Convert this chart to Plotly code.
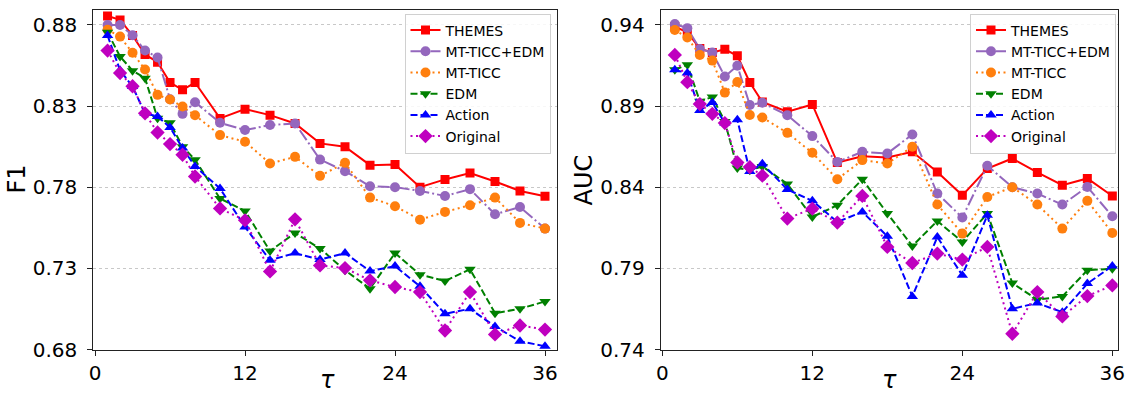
import plotly.graph_objects as go

tau = [1, 2, 3, 4, 5, 6, 7, 8, 10, 12, 14, 16, 18, 20, 22, 24, 26, 28, 30, 32, 34, 36]
x_ticks = [0, 12, 24, 36]

series_names = ["THEMES", "MT-TICC+EDM", "MT-TICC", "EDM", "Action", "Original"]

f1_themes = [0.8855, 0.8831, 0.8735, 0.8618, 0.8570, 0.8445, 0.8400, 0.8445, 0.8224, 0.8281, 0.8244,
             0.8193, 0.8070, 0.8049, 0.7936, 0.7940, 0.7800, 0.7848, 0.7888, 0.7835, 0.7777, 0.7744]
f1_mtticc_edm = [0.8800, 0.8800, 0.8736, 0.8642, 0.8599, 0.8342, 0.8252, 0.8324, 0.8197, 0.8152, 0.8183,
                 0.8193, 0.7970, 0.7899, 0.7806, 0.7800, 0.7777, 0.7746, 0.7788, 0.7633, 0.7678, 0.7545]
f1_mtticc = [0.8770, 0.8728, 0.8628, 0.8525, 0.8369, 0.8340, 0.8297, 0.8243, 0.8121, 0.8080, 0.7946,
             0.7987, 0.7870, 0.7950, 0.7736, 0.7683, 0.7600, 0.7648, 0.7689, 0.7736, 0.7580, 0.7545]
f1_edm = [0.8755, 0.8605, 0.8518, 0.8472, 0.8225, 0.8197, 0.8050, 0.7969, 0.7730, 0.7654, 0.7407,
          0.7518, 0.7422, 0.7288, 0.7175, 0.7394, 0.7261, 0.7222, 0.7294, 0.7024, 0.7051, 0.7096]
f1_action = [0.8735, 0.8520, 0.8420, 0.8255, 0.8236, 0.8168, 0.8041, 0.7928, 0.7792, 0.7555, 0.7350,
             0.7394, 0.7354, 0.7394, 0.7283, 0.7314, 0.7189, 0.7020, 0.7051, 0.6942, 0.6851, 0.6820]
f1_original = [0.8642, 0.8503, 0.8422, 0.8255, 0.8137, 0.8066, 0.8000, 0.7866, 0.7669, 0.7596, 0.7281,
               0.7602, 0.7318, 0.7302, 0.7226, 0.7185, 0.7154, 0.6917, 0.7154, 0.6893, 0.6948, 0.6923]

auc_themes = [0.9390, 0.9355, 0.9254, 0.9230, 0.9250, 0.9210, 0.9045, 0.8925, 0.8865, 0.8910, 0.8552,
              0.8591, 0.8583, 0.8618, 0.8494, 0.8350, 0.8515, 0.8577, 0.8491, 0.8412, 0.8454, 0.8346]
auc_mtticc_edm = [0.9406, 0.9380, 0.9252, 0.9230, 0.9082, 0.9148, 0.8907, 0.8920, 0.8844, 0.8715, 0.8556,
                  0.8618, 0.8608, 0.8725, 0.8361, 0.8213, 0.8532, 0.8400, 0.8361, 0.8293, 0.8402, 0.8221]
auc_mtticc = [0.9369, 0.9322, 0.9215, 0.9180, 0.8983, 0.9048, 0.8845, 0.8830, 0.8735, 0.8612, 0.8449,
              0.8567, 0.8546, 0.8649, 0.8293, 0.8114, 0.8340, 0.8400, 0.8293, 0.8145, 0.8316, 0.8118]
auc_edm = [0.9124, 0.9154, 0.8930, 0.8956, 0.8805, 0.8518, 0.8505, 0.8528, 0.8420, 0.8217, 0.8289,
           0.8449, 0.8238, 0.8038, 0.8192, 0.8063, 0.8238, 0.7809, 0.7707, 0.7727, 0.7888, 0.7898]
auc_action = [0.9123, 0.9103, 0.8873, 0.8922, 0.8795, 0.8815, 0.8497, 0.8545, 0.8386, 0.8316, 0.8186,
              0.8248, 0.8098, 0.7727, 0.8093, 0.7857, 0.8227, 0.7651, 0.7686, 0.7630, 0.7806, 0.7914]
auc_original = [0.9215, 0.9047, 0.8912, 0.8852, 0.8795, 0.8553, 0.8524, 0.8471, 0.8207, 0.8268, 0.8182,
                0.8346, 0.8032, 0.7933, 0.7991, 0.7954, 0.8032, 0.7497, 0.7754, 0.7604, 0.7729, 0.7795]

f1_series = [f1_themes, f1_mtticc_edm, f1_mtticc, f1_edm, f1_action, f1_original]
auc_series = [auc_themes, auc_mtticc_edm, auc_mtticc, auc_edm, auc_action, auc_original]

styles = [
    dict(color="#ff0000", dash="solid", symbol="square", size=9),
    dict(color="#9467bd", dash="12px,3px,2px,3px", symbol="circle", size=10),
    dict(color="#ff7f0e", dash="2px,3.5px", symbol="circle", size=10),
    dict(color="#008000", dash="7px,3px", symbol="triangle-down", size=10),
    dict(color="#0000ff", dash="7px,3px", symbol="triangle-up", size=10),
    dict(color="#bf00bf", dash="2px,3.5px", symbol="diamond", size=11),
]

FONT = "DejaVu Sans"
W, H = 1129, 396
fig = go.Figure()

for data, xa, ya, leg in [(f1_series, "x", "y", "legend"), (auc_series, "x2", "y2", "legend2")]:
    for name, vals, st in zip(series_names, data, styles):
        fig.add_trace(go.Scatter(
            x=tau, y=vals, name=name, mode="lines+markers",
            xaxis=xa, yaxis=ya, legend=leg,
            line=dict(color=st["color"], width=2, dash=st["dash"]),
            marker=dict(symbol=st["symbol"], size=st["size"], color=st["color"], line=dict(width=0)),
        ))

axis_common = dict(
    showline=True, linecolor="#222222", linewidth=1, mirror=True,
    ticks="outside", ticklen=5, tickwidth=1, tickcolor="#222222",
    tickfont=dict(family=FONT, size=20, color="black"),
    zeroline=False, automargin=False,
)
ygrid = dict(showgrid=True, gridcolor="#c8c8c8", griddash="dot", gridwidth=1, tickformat=".2f",
             ticklabelstandoff=6)

ydom = [1 - 349.5 / H, 1 - 9.5 / H]
legend_common = dict(xanchor="right", yanchor="top", bgcolor="rgba(255,255,255,0.85)",
                     bordercolor="#d0d0d0", borderwidth=1, font=dict(family=FONT, size=14),
                     tracegroupgap=0)

fig.update_layout(
    width=W, height=H,
    margin=dict(l=0, r=0, t=0, b=0, autoexpand=False),
    paper_bgcolor="white", plot_bgcolor="white",
    font=dict(family=FONT, color="black"),
    xaxis=dict(domain=[93.3 / W, 557 / W], range=[-0.14, 36.96], tickvals=x_ticks,
               showgrid=False, anchor="y", **axis_common),
    yaxis=dict(domain=ydom, range=[0.68, 0.8895], tickvals=[0.68, 0.73, 0.78, 0.83, 0.88],
               anchor="x", **ygrid, **axis_common),
    xaxis2=dict(domain=[660.7 / W, 1117.7 / W], range=[-0.13, 36.43], tickvals=x_ticks,
                showgrid=False, anchor="y2", **axis_common),
    yaxis2=dict(domain=ydom, range=[0.74, 0.9495], tickvals=[0.74, 0.79, 0.84, 0.89, 0.94],
                anchor="x2", **ygrid, **axis_common),
    legend=dict(x=550.5 / W, y=1 - 13.5 / H, **legend_common),
    legend2=dict(x=1116 / W, y=1 - 13.5 / H, **legend_common),
    annotations=[
        dict(text="F1", x=16 / W, y=1 - 179.5 / H, xref="paper", yref="paper", textangle=-90,
             showarrow=False, font=dict(family=FONT, size=24), xanchor="center", yanchor="middle"),
        dict(text="AUC", x=583 / W, y=1 - 179.5 / H, xref="paper", yref="paper", textangle=-90,
             showarrow=False, font=dict(family=FONT, size=24), xanchor="center", yanchor="middle"),
        dict(text="<i>τ</i>", x=327 / W, y=0, xref="paper", yref="paper",
             showarrow=False, font=dict(family=FONT, size=24), xanchor="center", yanchor="bottom"),
        dict(text="<i>τ</i>", x=889 / W, y=0, xref="paper", yref="paper",
             showarrow=False, font=dict(family=FONT, size=24), xanchor="center", yanchor="bottom"),
    ],
)

fig.write_html("out.html", config={"displayModeBar": False},
               post_script="document.body.style.margin='0px';document.body.style.padding='0px';")
